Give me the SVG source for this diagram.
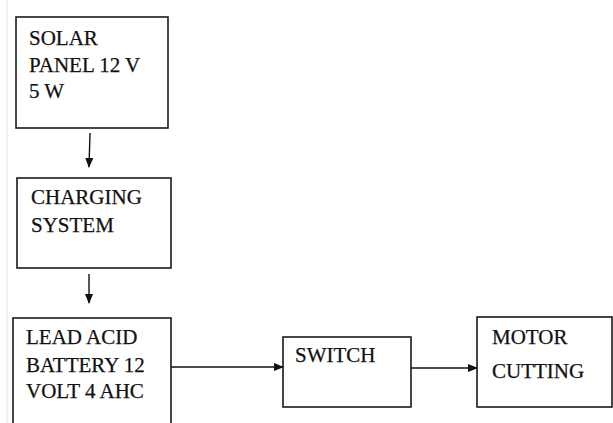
<svg xmlns="http://www.w3.org/2000/svg" width="613" height="423" viewBox="0 0 613 423">
<style>
.box{fill:#fff;stroke:#1a1a1a;stroke-width:1.6}
.t{font-size:21px;fill:#111;stroke:#111;stroke-width:0.25}
.c{stroke:#111;stroke-width:1.4;fill:none}
</style>
<defs>
<marker id="ah" markerWidth="10" markerHeight="8" refX="9" refY="4" orient="auto" markerUnits="userSpaceOnUse">
<path d="M0,0 L10,4 L0,8 Z" fill="#111"/>
</marker>
</defs>
<rect width="613" height="423" fill="#fff"/>
<line x1="7" y1="0" x2="7" y2="423" stroke="#e2e2e2" stroke-width="1"/>
<g font-family="'Liberation Serif', 'DejaVu Serif', serif">
<g id="solar">
<rect class="box" x="16" y="17" width="152" height="111"/>
<text class="t" x="29" y="45">SOLAR</text>
<text class="t" x="29" y="72">PANEL 12 V</text>
<text class="t" x="29" y="98">5 W</text>
</g>
<g id="charging">
<rect class="box" x="17" y="178" width="154" height="90"/>
<text class="t" x="31" y="204">CHARGING</text>
<text class="t" x="31" y="232">SYSTEM</text>
</g>
<g id="battery">
<rect class="box" x="13" y="318" width="158" height="110"/>
<text class="t" x="26" y="344">LEAD ACID</text>
<text class="t" x="26" y="372">BATTERY 12</text>
<text class="t" x="26" y="398">VOLT 4 AHC</text>
</g>
<g id="switch">
<rect class="box" x="283" y="337" width="128" height="70"/>
<text class="t" x="295" y="362">SWITCH</text>
</g>
<g id="motor">
<rect class="box" x="477" y="317" width="135" height="90"/>
<text class="t" x="492" y="344">MOTOR</text>
<text class="t" x="492" y="378">CUTTING</text>
</g>
</g>
<g id="connectors">
<line class="c" x1="90" y1="133" x2="89" y2="167" marker-end="url(#ah)"/>
<line class="c" x1="89" y1="274" x2="89" y2="303" marker-end="url(#ah)"/>
<line class="c" x1="171" y1="367" x2="283" y2="367" marker-end="url(#ah)"/>
<line class="c" x1="411" y1="368" x2="477" y2="368" marker-end="url(#ah)"/>
</g>
</svg>
